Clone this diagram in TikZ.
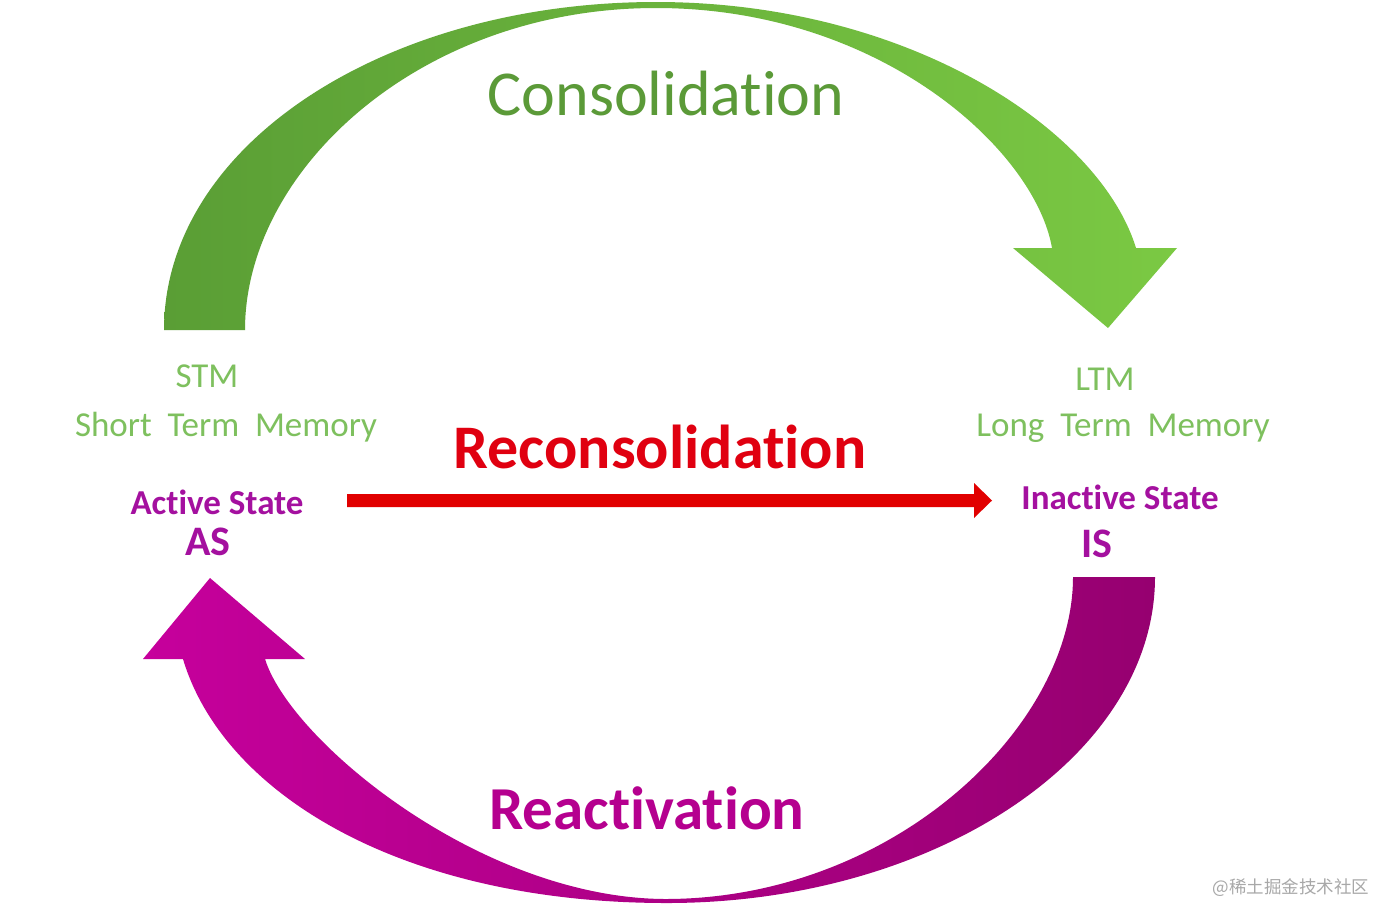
\documentclass[tikz,border=0pt]{standalone}
\usepackage{fontspec}
\setmainfont[Ligatures=NoCommon]{Carlito}
\newfontfamily\cjkfont{Noto Sans CJK SC}
\definecolor{gdark}{HTML}{5A9E35}
\definecolor{glight}{HTML}{7BC943}
\definecolor{mleft}{HTML}{C6009C}
\definecolor{mright}{HTML}{960070}
\definecolor{redarr}{HTML}{E10000}
\definecolor{constext}{HTML}{5B9A38}
\definecolor{stmtext}{HTML}{7EC05E}
\definecolor{statetext}{HTML}{A4109F}
\definecolor{reacttext}{HTML}{B5008F}
\definecolor{recontext}{HTML}{E00010}
\definecolor{wmgray}{HTML}{A8A8A8}
\begin{document}
\begin{tikzpicture}[x=1pt,y=-1pt,
  lbl/.style={inner sep=0pt, anchor=base},
  bigtxt/.style={lbl, font=\fontsize{64}{64}\selectfont},
  memtxt/.style={lbl, text=stmtext, font=\fontsize{35}{35}\selectfont},
  statetxt/.style={lbl, text=statetext, font=\bfseries\fontsize{35}{35}\selectfont},
  abbrtxt/.style={lbl, text=statetext, font=\bfseries\fontsize{42}{42}\selectfont}]
\useasboundingbox (0,0) rectangle (1396,922);
\fill[white] (0,0) rectangle (1396,922);

% Consolidation arrow (green)
\shade[left color=gdark, right color=glight]
 (164,330) .. controls (164,145) and (385,2) .. (656,2)
 .. controls (906,2) and (1099,128) .. (1136,248)
 -- (1177,248) -- (1108,328) -- (1013,248) -- (1052,248)
 .. controls (1035,150) and (880,8) .. (656,8)
 .. controls (420,8) and (245,170) .. (245,330) -- cycle;

% Reactivation arrow (magenta)
\shade[left color=mleft, right color=mright]
 (1073,577) -- (1155,577)
 .. controls (1155,756) and (935,903) .. (667,903)
 .. controls (401,903) and (223,793) .. (183,659)
 -- (143,659) -- (210,578) -- (305,659) -- (265,659)
 .. controls (290,740) and (480,898) .. (665,899)
 .. controls (893,899) and (1073,727) .. (1073,577) -- cycle;

% Reconsolidation arrow (red)
\coordinate (rstart) at (347,500.5);
\coordinate (rend) at (992,500.5);
\fill[redarr] ([shift={(0,-6.5)}]rstart) -- ++(627,0) -- ++(0,-11) -- (rend)
  -- ++(-18,17.5) -- ++(0,-11) -- ([shift={(0,6.5)}]rstart) -- cycle;

% Texts
\node[bigtxt, text=constext] (cons) at (666,115) {Consolidation};
\node[lbl, text=recontext, font=\bfseries\fontsize{62}{62}\selectfont] (recons) at (660,468) {Reconsolidation};
\node[lbl, text=reacttext, font=\bfseries\fontsize{61}{61}\selectfont] (react) at (647,829) {Reactivation};

\node[memtxt] (stm) at (207,387) {STM};
\node[memtxt] (stmfull) at (226,436) {Short\ \ Term\ \ Memory};
\node[memtxt] (ltm) at (1105,390) {LTM};
\node[memtxt] (ltmfull) at (1123,436) {Long\ \ Term\ \ Memory};

\node[statetxt] (act) at (217,514) {Active State};
\node[abbrtxt] (as) at (208,555) {AS};
\node[statetxt] (inact) at (1120,509) {Inactive State};
\node[abbrtxt] (is) at (1097,557) {IS};

\node[lbl, text=wmgray, font=\cjkfont\fontsize{17.5}{17.5}\selectfont] (wm) at (1291,893) {@稀土掘金技术社区};
\end{tikzpicture}
\end{document}
